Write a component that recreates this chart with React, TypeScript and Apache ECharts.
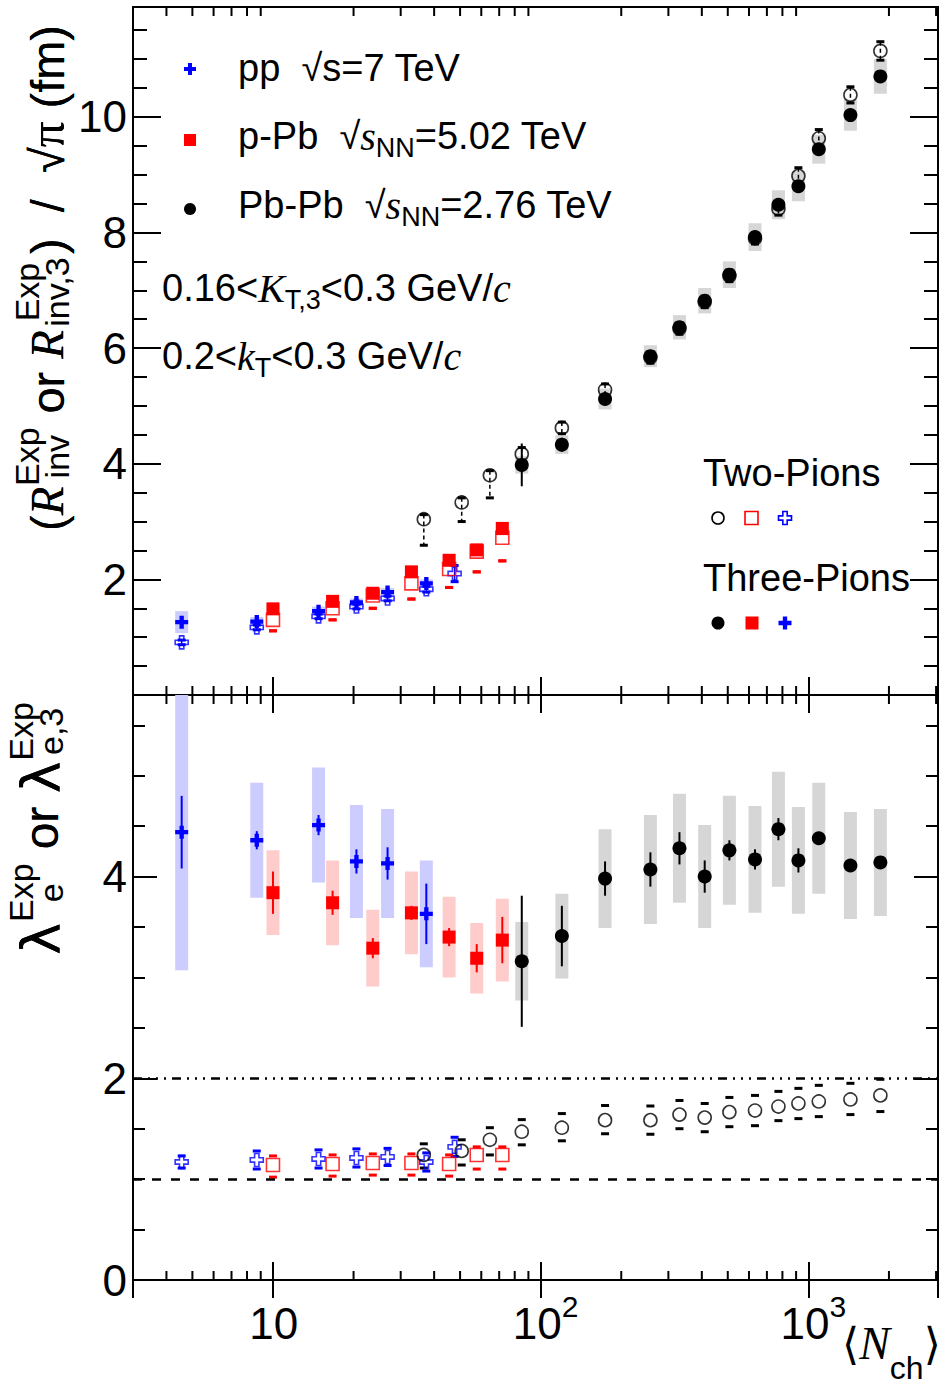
import React, { useEffect, useRef } from "react";
import * as echarts from "echarts";

// ---- x axis range (<N_ch>, log scale) ----
const X_MIN = 3;
const X_MAX = 3050;
const minorLogTicks = [4, 5, 6, 7, 8, 9, 20, 30, 40, 50, 60, 70, 80, 90, 200, 300, 400, 500, 600, 700, 800, 900, 2000, 3000];

// ---- top panel: radii ----
const ppNch3 = [4.56, 8.7, 14.8, 20.5, 26.8, 37.4];
const ppR3 = [1.26, 1.27, 1.45, 1.6, 1.78, 1.93];
const ppR3Stat = [0.05, 0.05, 0.05, 0.05, 0.06, 0.07];
const ppR3Sys = [0.19, 0.08, 0.08, 0.07, 0.07, 0.07];

const ppNch2 = [4.56, 8.7, 14.8, 20.5, 26.8, 37.4, 47.7];
const ppR2 = [0.91, 1.17, 1.36, 1.53, 1.67, 1.83, 2.1];
const ppR2Err = [0.04, 0.04, 0.04, 0.04, 0.04, 0.05, 0.14];

const pPbNch = [10.0, 16.7, 23.6, 32.9, 45.5, 57.7, 71.9];
const pPbR3 = [1.49, 1.62, 1.76, 2.13, 2.33, 2.51, 2.88];
const pPbR3Sys = [0.08, 0.08, 0.08, 0.09, 0.1, 0.1, 0.12];
const pPbR2 = [1.3, 1.5, 1.72, 1.93, 2.18, 2.48, 2.72];
const pPbR2Low = [1.11, 1.3, 1.5, 1.66, 1.86, 2.13, 2.32];

const PbPbNch3 = [85, 120, 174, 257, 330, 410, 507, 632, 773, 918, 1094, 1436, 1858];
const PbPbR3 = [3.98, 4.33, 5.12, 5.86, 6.36, 6.82, 7.27, 7.92, 8.48, 8.8, 9.44, 10.03, 10.7];
const PbPbR3Stat = [0.37, 0.12, 0.08, 0.06, 0.05, 0.05, 0.05, 0.05, 0.05, 0.05, 0.06, 0.07, 0.08];
const PbPbR3Sys = [0.15, 0.16, 0.18, 0.19, 0.21, 0.22, 0.23, 0.24, 0.25, 0.26, 0.25, 0.27, 0.3];

const PbPbNch2 = [36.6, 50.7, 64.6, 85, 120, 174, 257, 330, 410, 507, 632, 773, 918, 1094, 1436, 1858];
const PbPbR2 = [3.04, 3.33, 3.8, 4.17, 4.62, 5.28, 5.84, 6.34, 6.8, 7.25, 7.9, 8.41, 8.98, 9.63, 10.38, 11.14];
const PbPbR2Low = [2.59, 3.0, 3.41, 4.06, 4.52, 5.18, 5.74, 6.24, 6.7, 7.15, 7.8, 8.3, 8.85, 9.49, 10.24, 10.98];
const PbPbR2High = [3.12, 3.41, 3.88, 4.28, 4.72, 5.38, 5.94, 6.44, 6.9, 7.35, 8.0, 8.52, 9.12, 9.78, 10.52, 11.3];

// ---- bottom panel: lambda ----
const ppL3 = [4.44, 4.36, 4.51, 4.15, 4.13, 3.63];
const ppL3Stat = [0.36, 0.09, 0.1, 0.12, 0.16, 0.3];
const ppL3Sys = [1.37, 0.57, 0.57, 0.56, 0.54, 0.53];
const ppL2 = [1.17, 1.19, 1.2, 1.21, 1.22, 1.17, 1.32];
const ppL2Err = [0.06, 0.09, 0.09, 0.09, 0.085, 0.09, 0.095];

const pPbL3 = [3.84, 3.74, 3.29, 3.64, 3.4, 3.19, 3.37];
const pPbL3Stat = [0.21, 0.12, 0.1, 0.07, 0.09, 0.14, 0.23];
const pPbL3Sys = [0.42, 0.42, 0.38, 0.41, 0.4, 0.35, 0.41];
const pPbL2 = [1.14, 1.15, 1.16, 1.16, 1.15, 1.24, 1.24];
const pPbL2Low = [1.02, 1.03, 1.04, 1.04, 1.03, 1.1, 1.1];
const pPbL2High = [1.23, 1.24, 1.25, 1.25, 1.24, 1.32, 1.32];

const PbPbL3 = [3.16, 3.41, 3.98, 4.07, 4.28, 4.0, 4.26, 4.17, 4.47, 4.16, 4.38, 4.11, 4.14];
const PbPbL3Stat = [0.65, 0.3, 0.17, 0.17, 0.16, 0.16, 0.1, 0.1, 0.11, 0.12, 0.05, 0.05, 0.05];
const PbPbL3Sys = [0.39, 0.42, 0.49, 0.54, 0.54, 0.51, 0.54, 0.53, 0.57, 0.53, 0.55, 0.53, 0.53];
const PbPbL2 = [1.24, 1.28, 1.39, 1.47, 1.51, 1.585, 1.585, 1.64, 1.61, 1.665, 1.68, 1.72, 1.75, 1.77, 1.79, 1.83];
const PbPbL2Low = [1.11, 1.14, 1.24, 1.34, 1.38, 1.45, 1.445, 1.5, 1.47, 1.52, 1.53, 1.58, 1.6, 1.62, 1.64, 1.67];
const PbPbL2High = [1.35, 1.39, 1.51, 1.59, 1.65, 1.73, 1.725, 1.78, 1.75, 1.81, 1.83, 1.87, 1.9, 1.93, 1.95, 1.99];

// reference lines in the lambda panel
const lambdaDashDot = 2;
const lambdaDashed = 1;

const TOP_Y = { min: 0, max: 11.9 };
const BOT_Y = { min: 0, max: 5.8 };

const SANS = "Liberation Sans";
const SERIF = "Liberation Serif";
const BLUE = "#0000ff";
const RED = "#ff0000";
const BLACK = "#000000";
const CROSS = "path://M4 0H8V4H12V8H8V12H4V8H0V4H4Z";
const CLEAR = "rgba(0,0,0,0)";

// grid g uses xAxis 2g (bottom), 2g+1 (top), yAxis 2g (left), 2g+1 (right)
const band = (g: number, xs: number[], ys: number[], sys: number[], color: string) => ({
  type: "custom",
  xAxisIndex: 2 * g,
  yAxisIndex: 2 * g,
  z: 1,
  silent: true,
  clip: true,
  encode: { x: 0, y: [1, 2] },
  data: xs.map((x, i) => [x, ys[i] - sys[i], ys[i] + sys[i]]),
  renderItem: (_p: any, api: any) => {
    const t = api.coord([api.value(0), api.value(2)]);
    const b = api.coord([api.value(0), api.value(1)]);
    return {
      type: "rect",
      shape: { x: t[0] - 6.5, y: t[1], width: 13, height: b[1] - t[1] },
      style: { fill: color },
    };
  },
});

const errBar = (g: number, xs: number[], ys: number[], err: number[], color: string) => ({
  type: "custom",
  xAxisIndex: 2 * g,
  yAxisIndex: 2 * g,
  z: 2,
  silent: true,
  encode: { x: 0, y: [1, 2] },
  data: xs.map((x, i) => [x, ys[i] - err[i], ys[i] + err[i]]),
  renderItem: (_p: any, api: any) => {
    const t = api.coord([api.value(0), api.value(2)]);
    const b = api.coord([api.value(0), api.value(1)]);
    return {
      type: "line",
      shape: { x1: t[0], y1: t[1], x2: b[0], y2: b[1] },
      style: { stroke: color, lineWidth: 2 },
    };
  },
});

const caps = (g: number, xs: number[], lo: number[], hi: number[], color: string, line?: number[] | null) => ({
  type: "custom",
  xAxisIndex: 2 * g,
  yAxisIndex: 2 * g,
  z: 2,
  silent: true,
  encode: { x: 0, y: [1, 2] },
  data: xs.map((x, i) => [x, lo[i], hi[i]]),
  renderItem: (_p: any, api: any) => {
    const b = api.coord([api.value(0), api.value(1)]);
    const t = api.coord([api.value(0), api.value(2)]);
    const children: any[] = [];
    if (line !== undefined) {
      children.push({
        type: "line",
        shape: { x1: t[0], y1: t[1], x2: b[0], y2: b[1] },
        style: { stroke: color, lineWidth: 1.5, lineDash: line || undefined },
      });
    }
    children.push({ type: "rect", shape: { x: b[0] - 4, y: b[1] - 1.5, width: 8, height: 3 }, style: { fill: color } });
    children.push({ type: "rect", shape: { x: t[0] - 4, y: t[1] - 1.5, width: 8, height: 3 }, style: { fill: color } });
    return { type: "group", children };
  },
});

const markers = (g: number, xs: number[], ys: number[], symbol: string, size: number, color: string, open: boolean) => ({
  type: "scatter",
  xAxisIndex: 2 * g,
  yAxisIndex: 2 * g,
  z: open ? 3 : 4,
  silent: true,
  symbol,
  symbolSize: size,
  data: xs.map((x, i) => [x, ys[i]]),
  itemStyle: open
    ? { color: CLEAR, borderColor: color, borderWidth: 1.6 }
    : { color, borderWidth: 0, opacity: 1 },
});

const minorTicks = (g: number, yr: { min: number; max: number }) => ({
  type: "custom",
  xAxisIndex: 2 * g,
  yAxisIndex: 2 * g,
  z: 5,
  silent: true,
  clip: false,
  encode: { x: 0, y: 1 },
  data: minorLogTicks.map((v) => [v, yr.min]),
  renderItem: (_p: any, api: any) => {
    const b = api.coord([api.value(0), yr.min]);
    const t = api.coord([api.value(0), yr.max]);
    const st = { stroke: BLACK, lineWidth: 2 };
    return {
      type: "group",
      children: [
        { type: "line", shape: { x1: b[0], y1: b[1], x2: b[0], y2: b[1] - 9 }, style: st },
        { type: "line", shape: { x1: t[0], y1: t[1], x2: t[0], y2: t[1] + 9 }, style: st },
      ],
    };
  },
});

const tickStyle = { color: BLACK, width: 2 };

const xAxisPair = (g: number, labels: boolean) => {
  const base: any = {
    type: "log",
    logBase: 10,
    min: X_MIN,
    max: X_MAX,
    gridIndex: g,
    axisLine: { show: false },
    splitLine: { show: false },
    axisTick: { inside: true, length: 18, lineStyle: tickStyle },
  };
  return [
    {
      ...base,
      position: "bottom",
      axisLabel: labels
        ? {
            show: true,
            margin: 11,
            color: BLACK,
            fontFamily: SANS,
            fontSize: 44,
            showMinLabel: false,
            showMaxLabel: false,
            formatter: (v: number) => {
              const e = Math.log10(v);
              if (Math.abs(e - Math.round(e)) > 0.01) return "";
              const n = Math.round(e);
              if (n === 1) return "{b|10}{s| }";
              return "{b|10}{s|" + n + "}";
            },
            rich: {
              b: { fontSize: 44, fontFamily: SANS, color: BLACK, padding: [0, 0, 0, 10] },
              s: { fontSize: 30, fontFamily: SANS, color: BLACK, padding: [0, 0, 35, 0] },
            },
          }
        : { show: false },
    },
    { ...base, position: "top", axisLabel: { show: false } },
  ];
};

const yAxisPair = (g: number, yr: { min: number; max: number }, labels: number[], major: number, minor: number) => {
  const base: any = {
    type: "value",
    gridIndex: g,
    min: yr.min,
    max: yr.max,
    interval: 2,
    axisLine: { show: false },
    splitLine: { show: false },
    axisTick: { inside: true, length: major, lineStyle: tickStyle },
    minorTick: { show: true, splitNumber: 4, length: minor, lineStyle: tickStyle },
  };
  return [
    {
      ...base,
      position: "left",
      axisLabel: {
        show: true,
        margin: 6,
        color: BLACK,
        fontFamily: SANS,
        fontSize: 44,
        showMaxLabel: false,
        formatter: (v: number) => (labels.indexOf(v) >= 0 ? String(v) : ""),
      },
    },
    { ...base, position: "right", axisLabel: { show: false } },
  ];
};

// rotated axis titles with stacked super/subscripts (two overlaid layers)
type Seg = { t: string; k: string } | { sub: string; sup: string; id: number };

const titleRich = (main: number, script: number, widths: number[]) => {
  const rich: any = {
    m: { fontSize: main, fontFamily: SANS, color: BLACK },
    mi: { fontSize: main, fontFamily: SERIF, fontStyle: "italic", color: BLACK },
    g: { fontSize: main + 4, fontFamily: SERIF, color: BLACK },
    l: { fontSize: main + 6, fontFamily: "DejaVu Sans", color: BLACK },
    mT: { fontSize: main, fontFamily: SANS, color: CLEAR },
    miT: { fontSize: main, fontFamily: SERIF, fontStyle: "italic", color: CLEAR },
    gT: { fontSize: main + 4, fontFamily: SERIF, color: CLEAR },
    lT: { fontSize: main + 6, fontFamily: "DejaVu Sans", color: CLEAR },
  };
  widths.forEach((w, i) => {
    rich["sb" + i] = { fontSize: script, fontFamily: SANS, color: BLACK, width: w, padding: [30, 0, 10, 0] };
    rich["sp" + i] = { fontSize: script, fontFamily: SANS, color: BLACK, width: w, padding: [0, 0, 40, 0] };
  });
  return rich;
};

const titleLayer = (segs: Seg[], layer: "sub" | "sup") =>
  segs
    .map((s: any) => {
      if (s.t !== undefined) return "{" + s.k + (layer === "sup" ? "T" : "") + "|" + s.t + "}";
      return layer === "sub" ? "{sb" + s.id + "|" + s.sub + "}" : "{sp" + s.id + "|" + s.sup + "}";
    })
    .join("");

const topTitleSegs: Seg[] = [
  { t: "(", k: "m" },
  { t: "R", k: "mi" },
  { sub: "inv", sup: "Exp", id: 0 },
  { t: " or ", k: "m" },
  { t: "R", k: "mi" },
  { sub: "inv,3", sup: "Exp", id: 1 },
  { t: ")  /  √", k: "m" },
  { t: "π", k: "g" },
  { t: " (fm)", k: "m" },
];
const botTitleSegs: Seg[] = [
  { t: "λ", k: "l" },
  { sub: "e", sup: "Exp", id: 0 },
  { t: " or ", k: "m" },
  { t: "λ", k: "l" },
  { sub: "e,3", sup: "Exp", id: 1 },
];

const rotatedTitle = (segs: Seg[], x: number, y: number, main: number, script: number, widths: number[]) =>
  (["sub", "sup"] as const).map((layer) => ({
    type: "text",
    x,
    y,
    rotation: Math.PI / 2,
    silent: true,
    style: {
      text: titleLayer(segs, layer),
      rich: titleRich(main, script, widths),
      align: "center",
      verticalAlign: "middle",
      textAlign: "center",
      textVerticalAlign: "middle",
    },
  }));

const txtRich = {
  m: { fontSize: 38, fontFamily: SANS, color: BLACK },
  i: { fontSize: 40, fontFamily: SERIF, fontStyle: "italic", color: BLACK },
  sb: { fontSize: 27, fontFamily: SANS, color: BLACK, padding: [24, 0, 0, 0] },
};

const plainText = (text: string, x: number, y: number) => ({
  type: "text",
  x,
  y,
  silent: true,
  style: {
    text,
    rich: txtRich,
    align: "left",
    verticalAlign: "middle",
    textAlign: "left",
    textVerticalAlign: "middle",
  },
});

const crossPts = (cx: number, cy: number, s: number) => {
  const h = s / 2;
  const t = s / 6;
  return [
    [cx - t, cy - h], [cx + t, cy - h], [cx + t, cy - t], [cx + h, cy - t],
    [cx + h, cy + t], [cx + t, cy + t], [cx + t, cy + h], [cx - t, cy + h],
    [cx - t, cy + t], [cx - h, cy + t], [cx - h, cy - t], [cx - t, cy - t],
  ];
};

const legendGraphics: any[] = [
  { type: "polygon", shape: { points: crossPts(190, 69, 12) }, style: { fill: BLUE }, silent: true },
  { type: "rect", shape: { x: 184, y: 134, width: 12, height: 12 }, style: { fill: RED }, silent: true },
  { type: "circle", shape: { cx: 190, cy: 209, r: 6 }, style: { fill: BLACK }, silent: true },
  { type: "circle", shape: { cx: 718, cy: 518, r: 6 }, style: { fill: CLEAR, stroke: BLACK, lineWidth: 1.6 }, silent: true },
  { type: "rect", shape: { x: 745, y: 511.5, width: 13, height: 13 }, style: { fill: CLEAR, stroke: RED, lineWidth: 1.6 }, silent: true },
  { type: "polygon", shape: { points: crossPts(785, 518, 13) }, style: { fill: CLEAR, stroke: BLUE, lineWidth: 1.6 }, silent: true },
  { type: "circle", shape: { cx: 718, cy: 623, r: 6.5 }, style: { fill: BLACK }, silent: true },
  { type: "rect", shape: { x: 745.5, y: 616.5, width: 13, height: 13 }, style: { fill: RED }, silent: true },
  { type: "polygon", shape: { points: crossPts(785, 623, 13) }, style: { fill: BLUE }, silent: true },
  plainText("{m|pp  √s=7 TeV}", 238, 68),
  plainText("{m|p-Pb  √}{i|s}{sb|NN}{m|=5.02 TeV}", 238, 136),
  plainText("{m|Pb-Pb  √}{i|s}{sb|NN}{m|=2.76 TeV}", 238, 205),
  plainText("{m|0.16<}{i|K}{sb|T,3}{m|<0.3 GeV/}{i|c}", 162, 288),
  plainText("{m|0.2<}{i|k}{sb|T}{m|<0.3 GeV/}{i|c}", 162, 356),
  plainText("{m|Two-Pions}", 703, 473),
  plainText("{m|Three-Pions}", 703, 578),
  ...rotatedTitle(topTitleSegs, 47, 278, 47, 34, [60, 76]),
  ...rotatedTitle(botTitleSegs, 41, 828, 48, 34, [60, 60]),
  {
    type: "text",
    x: 842,
    y: 1343,
    silent: true,
    style: {
      text: "{a|⟨}{n|N}{c|ch}{a|⟩}",
      rich: {
        a: { fontSize: 44, fontFamily: "DejaVu Sans", color: BLACK },
        n: { fontSize: 46, fontFamily: SERIF, fontStyle: "italic", color: BLACK },
        c: { fontSize: 32, fontFamily: SANS, color: BLACK, padding: [50, 0, 0, 0] },
      },
      align: "left",
      verticalAlign: "middle",
      textAlign: "left",
      textVerticalAlign: "middle",
    },
  },
];

const option: any = {
  animation: false,
  backgroundColor: "#ffffff",
  grid: [
    { left: 133, right: 12, top: 7, height: 688, show: true, borderColor: BLACK, borderWidth: 2 },
    { left: 133, right: 12, top: 695, height: 585, show: true, borderColor: BLACK, borderWidth: 2 },
  ],
  xAxis: [...xAxisPair(0, false), ...xAxisPair(1, true)],
  yAxis: [
    ...yAxisPair(0, TOP_Y, [2, 4, 6, 8, 10], 28, 14),
    ...yAxisPair(1, BOT_Y, [0, 2, 4], 24, 12),
  ],
  series: [
    // top panel
    band(0, ppNch3, ppR3, ppR3Sys, "#ccccff"),
    band(0, pPbNch, pPbR3, pPbR3Sys, "#ffcccc"),
    band(0, PbPbNch3, PbPbR3, PbPbR3Sys, "#d6d6d6"),
    errBar(0, ppNch3, ppR3, ppR3Stat, BLUE),
    errBar(0, PbPbNch3, PbPbR3, PbPbR3Stat, BLACK),
    caps(0, ppNch2, ppR2.map((v, i) => v - ppR2Err[i]), ppR2.map((v, i) => v + ppR2Err[i]), BLUE, null),
    caps(0, pPbNch, pPbR2Low, pPbR2Low, RED),
    caps(0, PbPbNch2, PbPbR2Low, PbPbR2High, BLACK, [4, 3]),
    markers(0, ppNch2, ppR2, CROSS, 13, BLUE, true),
    markers(0, pPbNch, pPbR2, "rect", 13, RED, true),
    markers(0, PbPbNch2, PbPbR2, "circle", 13, BLACK, true),
    markers(0, ppNch3, ppR3, CROSS, 13, BLUE, false),
    markers(0, pPbNch, pPbR3, "rect", 13, RED, false),
    markers(0, PbPbNch3, PbPbR3, "circle", 14, BLACK, false),
    minorTicks(0, TOP_Y),
    // bottom panel
    band(1, ppNch3, ppL3, ppL3Sys, "#ccccff"),
    band(1, pPbNch, pPbL3, pPbL3Sys, "#ffcccc"),
    band(1, PbPbNch3, PbPbL3, PbPbL3Sys, "#d6d6d6"),
    errBar(1, ppNch3, ppL3, ppL3Stat, BLUE),
    errBar(1, pPbNch, pPbL3, pPbL3Stat, RED),
    errBar(1, PbPbNch3, PbPbL3, PbPbL3Stat, BLACK),
    caps(1, ppNch2, ppL2.map((v, i) => v - ppL2Err[i]), ppL2.map((v, i) => v + ppL2Err[i]), BLUE),
    caps(1, pPbNch, pPbL2Low, pPbL2High, RED),
    caps(1, PbPbNch2, PbPbL2Low, PbPbL2High, BLACK),
    {
      ...markers(1, ppNch2, ppL2, CROSS, 13, BLUE, true),
      markLine: {
        silent: true,
        symbol: ["none", "none"],
        label: { show: false },
        data: [
          { yAxis: lambdaDashDot, lineStyle: { color: BLACK, width: 2.5, type: [9, 6, 2, 6, 2, 6, 2, 6] } },
          { yAxis: lambdaDashed, lineStyle: { color: BLACK, width: 2.5, type: [9, 10] } },
        ],
      },
    },
    markers(1, pPbNch, pPbL2, "rect", 13, RED, true),
    markers(1, PbPbNch2, PbPbL2, "circle", 13, BLACK, true),
    markers(1, ppNch3, ppL3, CROSS, 13, BLUE, false),
    markers(1, pPbNch, pPbL3, "rect", 13, RED, false),
    markers(1, PbPbNch3, PbPbL3, "circle", 14, BLACK, false),
    minorTicks(1, BOT_Y),
  ],
  graphic: { elements: legendGraphics },
};

export default function App() {
  const chartRef = useRef<HTMLDivElement>(null);

  useEffect(() => {
    document.body.style.margin = "0";
    const dom = chartRef.current;
    if (!dom) return;
    const chart = echarts.init(dom, undefined, { renderer: "svg" });
    chart.setOption(option);
    return () => {
      chart.dispose();
    };
  }, []);

  return <div ref={chartRef} style={{ width: 950, height: 1392 }} />;
}
